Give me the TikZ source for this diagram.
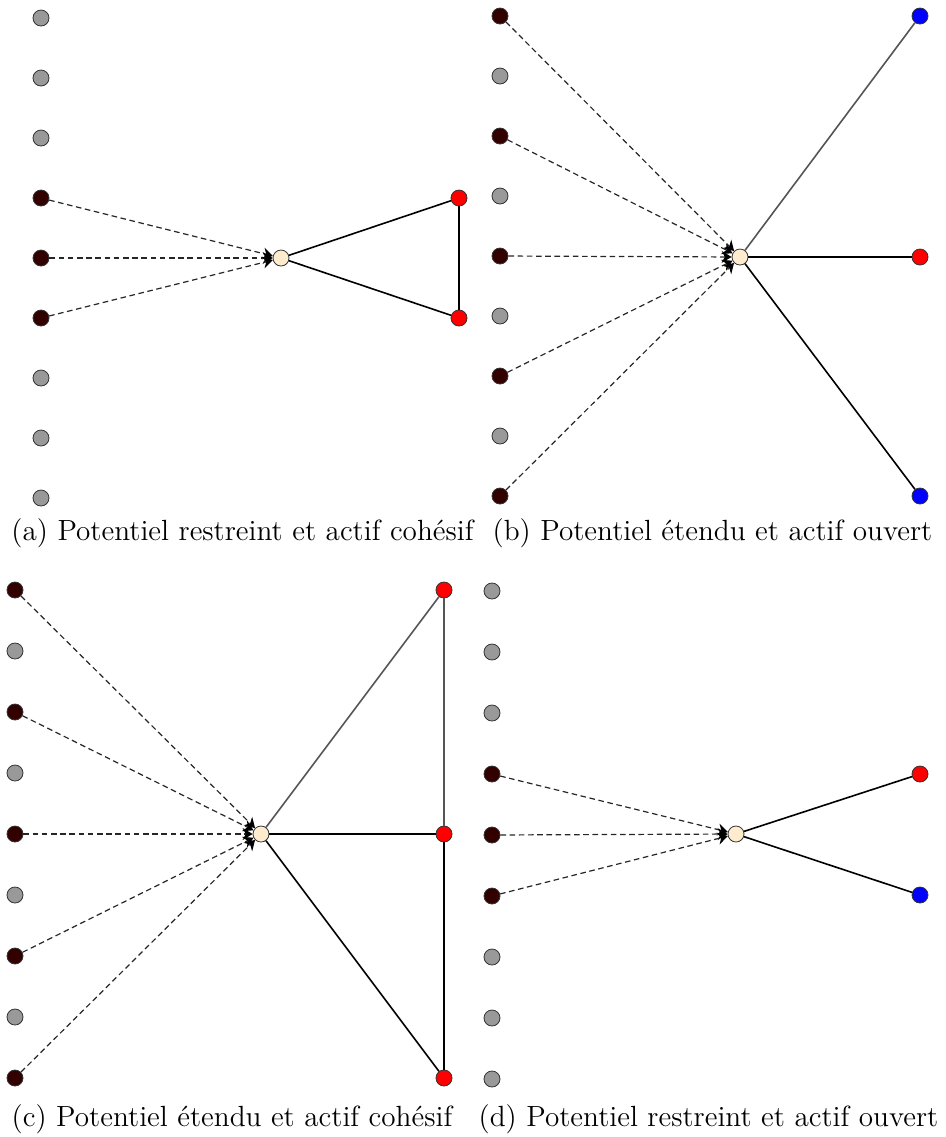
\documentclass[tikz,border=0pt]{standalone}
\usetikzlibrary{arrows.meta}
\definecolor{darknode}{HTML}{330000}
\definecolor{greynode}{HTML}{999999}
\definecolor{cream}{HTML}{FFEBCD}
\definecolor{edgegrey}{HTML}{555555}
\begin{document}
\begin{tikzpicture}[x=0.5pt,y=-0.5pt,
  vtx/.style={circle,draw=black!80,line width=0.4pt,minimum size=8pt,inner sep=0pt},
  greyv/.style={vtx,fill=greynode},
  darkv/.style={vtx,fill=darknode},
  redv/.style={vtx,fill=red},
  bluev/.style={vtx,fill=blue},
  ctr/.style={vtx,fill=cream},
  pot/.style={dashed,dash pattern=on 2.8pt off 1.8pt,line width=0.6pt,black!85,-{Stealth[length=5pt,width=6pt,black]}},
  act/.style={line width=0.8pt,black},
  actg/.style={line width=0.8pt,edgegrey},
  captxt/.style={font=\fontsize{14.6}{17}\selectfont,anchor=base}]
\useasboundingbox (0,0) rectangle (946,1137);
% ---------- (a)
\foreach \i in {0,...,8}{
  \pgfmathsetmacro{\yy}{18+60*\i}
  \ifnum\i>2 \ifnum\i<6 \node[darkv] (a\i) at (41,\yy) {}; \else \node[greyv] (a\i) at (41,\yy) {}; \fi
  \else \node[greyv] (a\i) at (41,\yy) {}; \fi}
\node[ctr] (ac) at (281,258) {};
\node[redv] (ar1) at (459,198) {};
\node[redv] (ar2) at (459,318) {};
\foreach \i in {3,4,5} \draw[pot] (a\i) -- (ac);
\draw[act] (ac) -- (ar1);
\draw[act] (ac) -- (ar2);
\draw[act] (ar1) -- (ar2);
\node[captxt] (capa) at (242.5,540) {(a) Potentiel restreint et actif cohésif};
% ---------- (b)
\foreach \i in {0,...,8}{
  \pgfmathsetmacro{\yy}{16+60*\i}
  \ifodd\i \node[greyv] (b\i) at (500,\yy) {}; \else \node[darkv] (b\i) at (500,\yy) {}; \fi}
\node[ctr] (bc) at (740,257) {};
\node[bluev] (bb1) at (920,16) {};
\node[redv] (br) at (920,257) {};
\node[bluev] (bb2) at (920,496) {};
\foreach \i in {0,2,4,6,8} \draw[pot] (b\i) -- (bc);
\draw[actg] (bc) -- (bb1);
\draw[act] (bc) -- (br);
\draw[act] (bc) -- (bb2);
\node[captxt] (capb) at (712.5,540) {(b) Potentiel étendu et actif ouvert};
% ---------- (c)
\foreach \i in {0,...,8}{
  \pgfmathsetmacro{\yy}{590+61*\i}
  \ifodd\i \node[greyv] (c\i) at (15,\yy) {}; \else \node[darkv] (c\i) at (15,\yy) {}; \fi}
\node[ctr] (cc) at (261,834) {};
\node[redv] (cr1) at (444,590) {};
\node[redv] (cr2) at (444,834) {};
\node[redv] (cr3) at (444,1078) {};
\foreach \i in {0,2,4,6,8} \draw[pot] (c\i) -- (cc);
\draw[actg] (cc) -- (cr1);
\draw[actg] (cr1) -- (cr2);
\draw[act] (cc) -- (cr2);
\draw[act] (cc) -- (cr3);
\draw[act] (cr2) -- (cr3);
\node[captxt] (capc) at (232,1126) {(c) Potentiel étendu et actif cohésif};
% ---------- (d)
\foreach \i in {0,...,8}{
  \pgfmathsetmacro{\yy}{591+61*\i}
  \ifnum\i>2 \ifnum\i<6 \node[darkv] (d\i) at (492,\yy) {}; \else \node[greyv] (d\i) at (492,\yy) {}; \fi
  \else \node[greyv] (d\i) at (492,\yy) {}; \fi}
\node[ctr] (dc) at (736,834) {};
\node[redv] (dr) at (920,774) {};
\node[bluev] (db) at (920,895) {};
\foreach \i in {3,4,5} \draw[pot] (d\i) -- (dc);
\draw[act] (dc) -- (dr);
\draw[act] (dc) -- (db);
\node[captxt] (capd) at (708.5,1126) {(d) Potentiel restreint et actif ouvert};
\end{tikzpicture}
\end{document}
